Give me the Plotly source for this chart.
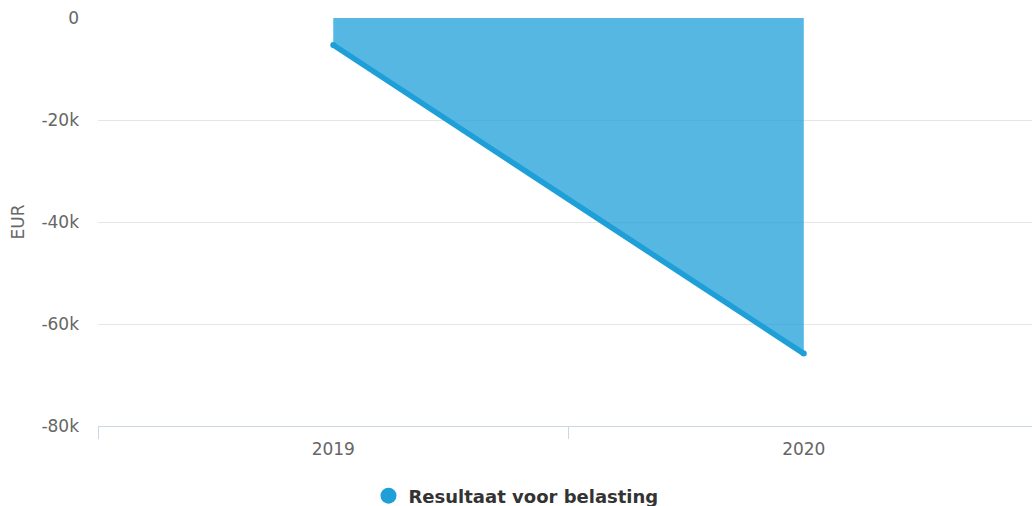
import plotly.graph_objects as go

years = ["2019", "2020"]
resultaat = [-5300, -65800]
series_name = "Resultaat voor belasting"
y_ticks = [0, -20000, -40000, -60000, -80000]
y_tick_labels = ["0", "-20k", "-40k", "-60k", "-80k"]

line_color = "#1e9fd8"
fill_color = "rgba(30,159,216,0.75)"

fig = go.Figure()
fig.add_trace(go.Scatter(
    x=years, y=resultaat, mode="lines+markers", fill="tozeroy",
    fillcolor=fill_color,
    line=dict(color=line_color, width=5.5),
    marker=dict(color=line_color, size=6),
    showlegend=False, hoverinfo="skip",
))
fig.add_trace(go.Scatter(
    x=[None], y=[None], mode="markers", name=series_name,
    marker=dict(color=line_color, size=18),
))

fig.update_layout(
    width=1032, height=506,
    margin=dict(l=98, r=0, t=18, b=80, autoexpand=False),
    paper_bgcolor="white", plot_bgcolor="white",
    font=dict(family="DejaVu Sans", color="#666666", size=17),
    legend=dict(orientation="h", xref="container", x=0.5, xanchor="center",
                yref="container", y=10 / 506, yanchor="middle",
                font=dict(size=18, color="#333333", weight="bold")),
    xaxis=dict(type="category", range=[-0.5, 1.485], showgrid=False,
               showline=True, linecolor="#ccd6eb", linewidth=1,
               ticks="outside", ticklen=12, tickcolor="#ccd6eb",
               tickson="boundaries", ticklabelstandoff=8,
               tickfont=dict(size=17, color="#666666"),
               zeroline=False, fixedrange=True),
    yaxis=dict(range=[-80000, 0], tickvals=y_ticks, ticktext=y_tick_labels,
               showgrid=True, gridcolor="#e6e6e6", gridwidth=1,
               zeroline=False, showline=False, ticks="",
               ticklabelstandoff=18,
               title=dict(text="EUR", font=dict(size=17, color="#666666"), standoff=12),
               tickfont=dict(size=17, color="#666666"), fixedrange=True),
)

fig.write_html("out.html")
